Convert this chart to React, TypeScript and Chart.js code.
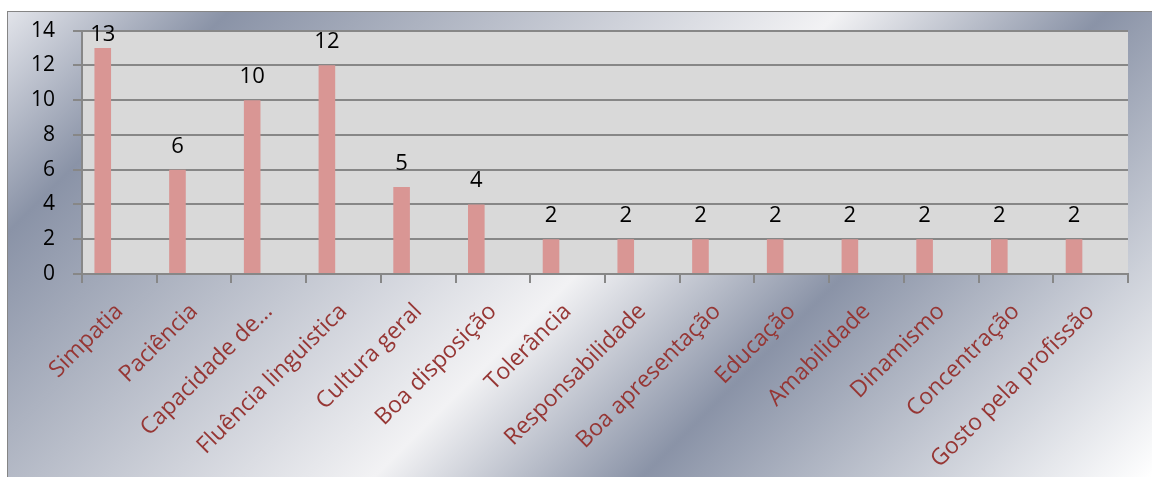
import React, { useEffect, useRef } from "react";
import { Chart, registerables } from "chart.js";

Chart.register(...registerables);

const categories = [
  "Simpatia",
  "Paciência",
  "Capacidade de…",
  "Fluência linguistica",
  "Cultura geral",
  "Boa disposição",
  "Tolerância",
  "Responsabilidade",
  "Boa apresentação",
  "Educação",
  "Amabilidade",
  "Dinamismo",
  "Concentração",
  "Gosto pela profissão",
];
const values = [13, 6, 10, 12, 5, 4, 2, 2, 2, 2, 2, 2, 2, 2];
// Two empty series (as in the original clustered chart) that only reserve space
const series2 = [null, null, null, null, null, null, null, null, null, null, null, null, null, null];
const series3 = [null, null, null, null, null, null, null, null, null, null, null, null, null, null];
const yMin = 0;
const yMax = 14;
const yStep = 2;

const FONT = "'Open Sans', 'DejaVu Sans', sans-serif";
const GRID = "#878787";

const backgroundPlugin = {
  id: "bgPlugin",
  beforeDraw(chart: any) {
    const { ctx, width, height, chartArea } = chart;
    ctx.save();
    ctx.fillStyle = "#ffffff";
    ctx.fillRect(0, 0, width, height);
    const x0 = 7;
    const y0 = 11;
    const L = 805;
    const g = ctx.createLinearGradient(x0, y0, x0 + L, y0 + L);
    g.addColorStop(0, "#e2e4ea");
    g.addColorStop(0.138, "#8a93a7");
    g.addColorStop(0.517, "#f2f2f4");
    g.addColorStop(0.684, "#8a93a7");
    g.addColorStop(1, "#ffffff");
    ctx.fillStyle = g;
    ctx.fillRect(x0, y0, width - x0 + 20, height - y0 + 20);
    ctx.strokeStyle = "#858585";
    ctx.lineWidth = 1;
    ctx.strokeRect(x0 + 0.5, y0 + 0.5, width + 20, height + 20);
    ctx.fillStyle = "#d9d9d9";
    ctx.fillRect(chartArea.left, chartArea.top, chartArea.right - chartArea.left, chartArea.bottom - chartArea.top);
    ctx.restore();
  },
};

const labelPlugin = {
  id: "valueLabels",
  afterDatasetsDraw(chart: any) {
    const { ctx, chartArea } = chart;
    const meta = chart.getDatasetMeta(0);
    ctx.save();
    ctx.font = `22px ${FONT}`;
    ctx.fillStyle = "#000000";
    ctx.textAlign = "center";
    ctx.textBaseline = "alphabetic";
    meta.data.forEach((bar: any, i: number) => {
      const v = chart.data.datasets[0].data[i];
      if (v === null || v === undefined) return;
      const y = Math.max(bar.y - 17, chartArea.top + 10);
      ctx.fillText(String(v), bar.x, y);
    });
    ctx.restore();
  },
};

export default function App() {
  const ref = useRef<HTMLCanvasElement>(null);
  useEffect(() => {
    if (!ref.current) return;
    const chart = new Chart(ref.current, {
      type: "bar",
      data: {
        labels: categories,
        datasets: [
          { label: "Série 1", data: values, backgroundColor: "#d99694", categoryPercentage: 0.667, barPercentage: 1 },
          { label: "Série 2", data: series2, backgroundColor: "#d99694", categoryPercentage: 0.667, barPercentage: 1 },
          { label: "Série 3", data: series3, backgroundColor: "#d99694", categoryPercentage: 0.667, barPercentage: 1 },
        ],
      },
      options: {
        responsive: false,
        animation: false,
        layout: { padding: { left: 0, right: 24, top: 30, bottom: 0 } },
        plugins: {
          legend: { display: false },
          tooltip: { enabled: false },
        },
        scales: {
          x: {
            offset: true,
            grid: {
              offset: true,
              drawOnChartArea: false,
              drawTicks: true,
              tickLength: 9,
              color: GRID,
              lineWidth: 2,
            },
            border: { display: true, color: GRID, width: 2 },
            ticks: {
              autoSkip: false,
              minRotation: 45,
              maxRotation: 45,
              padding: 15,
              color: "#963634",
              font: { family: FONT, size: 23 },
            },
            afterFit(scale: any) {
              scale.height = 203;
            },
          },
          y: {
            min: yMin,
            max: yMax,
            ticks: {
              stepSize: yStep,
              padding: 18,
              color: "#000000",
              font: { family: FONT, size: 21 },
            },
            grid: {
              color: GRID,
              lineWidth: 2,
              tickLength: 9,
              drawTicks: true,
            },
            border: { display: true, color: GRID, width: 2 },
            afterFit(scale: any) {
              scale.width = 82;
            },
          },
        },
      },
      plugins: [backgroundPlugin, labelPlugin],
    } as any);
    return () => chart.destroy();
  }, []);
  return (
    <div style={{ position: "fixed", left: 0, top: 0, width: 1152, height: 477 }}>
      <canvas ref={ref} width={1152} height={477} style={{ display: "block" }} />
    </div>
  );
}
